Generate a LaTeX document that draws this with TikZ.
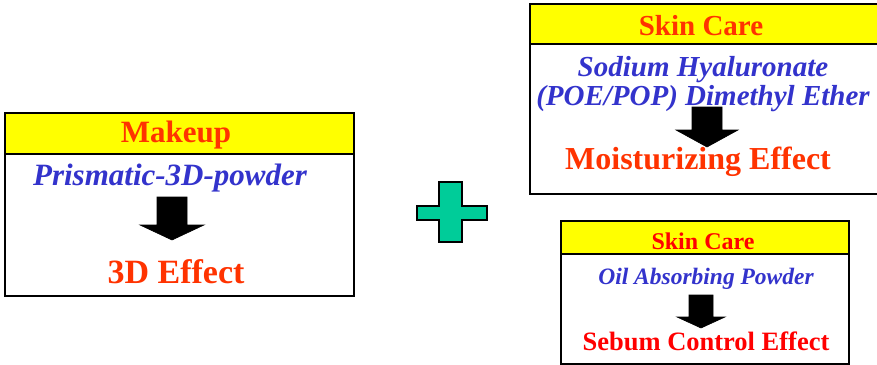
\documentclass[tikz,border=0pt]{standalone}
\usepackage{fontspec}
\setmainfont{Liberation Serif}
\usepackage{xcolor}
\definecolor{flame}{HTML}{FF3300}
\definecolor{pure}{HTML}{FF0000}
\definecolor{ink}{HTML}{3333CC}
\definecolor{hilite}{HTML}{FFFF00}
\definecolor{mint}{HTML}{00CC99}
\usetikzlibrary{positioning}
\tikzset{
  every picture/.style={x=1pt, y=-1pt, line width=2.4pt},
  panel/.style={draw=black, fill=white, anchor=north west, inner sep=0pt, minimum width=#1},
  header/.style={panel=#1, fill=hilite},
  title/.style={font=\bfseries\fontsize{#1}{#1}\selectfont, text=flame, inner sep=0pt},
  agent/.style={font=\bfseries\itshape\fontsize{#1}{1.0\dimexpr#1pt\relax}\selectfont, text=ink, align=center, inner sep=0pt},
  effect/.style={font=\bfseries\fontsize{#1}{#1}\selectfont, text=flame, inner sep=0pt},
  down/.style={draw=black, fill=black, line width=0.6pt, line join=miter},
}
\begin{document}
\begin{tikzpicture}
  \useasboundingbox (0,0) rectangle (877,364);

  % makeup panel
  \node[header=349, minimum height=41] (mkhead) at (4,112) {};
  \node[panel=349, minimum height=142] (mkbody) at (4,153) {};
  \node[title=31] (mktitle) at (176,135) {Makeup};
  \node[agent=31] (mkagent) at (170,178) {Prismatic-3D-powder};
  \coordinate (mktop) at (172,197);
  \draw[down] (mktop) ++(-15,0) -- ++(0,28) -- ++(-17,0) -- ++(32,15) -- ++(32,-15) -- ++(-17,0) -- ++(0,-28) -- cycle;
  \node[effect=34] (mkeffect) at (176,272) {3D Effect};

  % plus sign
  \draw[fill=mint, line width=1.6pt]
    (439,182) -- (462,182) -- (462,206) -- (487,206) -- (487,220) -- (462,220) -- (462,242)
    -- (439,242) -- (439,220) -- (417,220) -- (417,206) -- (439,206) -- cycle;

  % skin care, moisturizing
  \node[header=354, minimum height=40] (sahead) at (529,3) {};
  \node[panel=354, minimum height=150] (sabody) at (529,43) {};
  \node[title=29] (satitle) at (701,26) {Skin Care};
  \node[agent=29] (saagent) at (703,84) {Sodium Hyaluronate\\(POE/POP) Dimethyl Ether};
  \coordinate (satop) at (707,107);
  \draw[down] (satop) ++(-15,0) -- ++(0,23) -- ++(-16,0) -- ++(31,17) -- ++(31,-17) -- ++(-16,0) -- ++(0,-23) -- cycle;
  \node[effect=32] (saeffect) at (698,162) {Moisturizing Effect};

  % skin care, sebum control
  \node[header=288, minimum height=33] (sbhead) at (560,220) {};
  \node[panel=288, minimum height=110] (sbbody) at (560,253) {};
  \node[title=24, text=pure] (sbtitle) at (703,241) {Skin Care};
  \node[agent=23.5] (sbagent) at (706,279) {Oil Absorbing Powder};
  \coordinate (sbtop) at (701,295);
  \draw[down] (sbtop) ++(-12,0) -- ++(0,22) -- ++(-12,0) -- ++(24,11) -- ++(24,-11) -- ++(-12,0) -- ++(0,-22) -- cycle;
  \node[effect=26.5, text=pure] (sbeffect) at (706,341) {Sebum Control Effect};
\end{tikzpicture}
\end{document}
